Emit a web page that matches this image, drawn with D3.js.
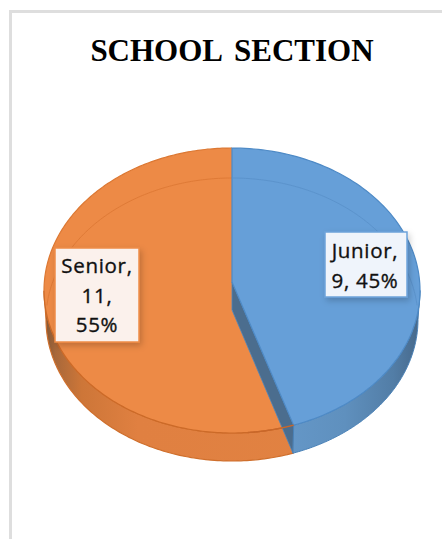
<!DOCTYPE html>
<html>
<head>
<meta charset="utf-8">
<script src="https://cdn.jsdelivr.net/npm/d3@7"></script>
<style>
  html, body { margin: 0; padding: 0; background: #fff; }
  svg { display: block; }
</style>
</head>
<body>
<div id="chart"></div>
<script>
const categories = ["Junior", "Senior"];
const values = [9, 11];
const labelLines = [["Junior,", "9, 45%"], ["Senior,", "11,", "55%"]];
const titleText = "SCHOOL SECTION";

const width = 442, height = 539;

const svg = d3.select("#chart").append("svg")
    .attr("width", width)
    .attr("height", height);

const defs = svg.append("defs");

function addGradient(id, stops) {
    const g = defs.append("linearGradient").attr("id", id)
        .attr("gradientUnits", "userSpaceOnUse")
        .attr("x1", 44).attr("x2", 420).attr("y1", 0).attr("y2", 0);
    stops.forEach(s => g.append("stop").attr("offset", s[0]).attr("stop-color", s[1]));
}
addGradient("orangeSide", [[0, "#7d5434"], [0.03, "#a8683a"], [0.1, "#cd7638"], [0.25, "#e08041"], [1, "#e28342"]]);
addGradient("blueSide", [[0.6, "#6699ca"], [0.8, "#5f90be"], [0.93, "#527da6"], [1, "#46688a"]]);

const shadow = defs.append("filter").attr("id", "labelShadow")
    .attr("x", "-20%").attr("y", "-20%").attr("width", "150%").attr("height", "150%");
shadow.append("feDropShadow")
    .attr("dx", 2).attr("dy", 3).attr("stdDeviation", 3)
    .attr("flood-color", "#000").attr("flood-opacity", 0.2);

// chart frame, only the top and left edges are inside the crop
svg.append("path")
    .attr("d", "M10.5,539 V11.5 H442")
    .attr("fill", "none")
    .attr("stroke", "#dedede")
    .attr("stroke-width", 3);

svg.append("text")
    .attr("x", 232)
    .attr("y", 61)
    .attr("text-anchor", "middle")
    .attr("font-family", "'Liberation Serif'")
    .attr("font-weight", "bold")
    .attr("font-size", 31)
    .attr("word-spacing", 5)
    .attr("fill", "#000")
    .text(titleText);

// top face and bottom edge of the disc
const xTop = d3.scaleLinear().domain([-1, 1]).range([44, 420]);
const yTop = d3.scaleLinear().domain([-1, 1]).range([148, 433]);
const xBottom = d3.scaleLinear().domain([-1, 1]).range([46, 418]);
const yBottom = d3.scaleLinear().domain([-1, 1]).range([178, 461]);

const pie = d3.pie().sort(null);
const slices = pie(values);
const junior = slices[0], senior = slices[1];

const topPt = a => [xTop(Math.sin(a)), yTop(-Math.cos(a))];
const bottomPt = a => [xBottom(Math.sin(a)), yBottom(-Math.cos(a))];
const arcPts = (fn, a0, a1) => d3.range(0, 121).map(i => fn(a0 + (a1 - a0) * i / 120));
const line = d3.line();

const apexTop = [xTop(0), 282];
const apexBottom = [xTop(0), 310];
// the tilted view pulls the cut a little away from its flat angle
const cut = junior.endAngle - 0.02;
const quarter = Math.PI / 2;

// sides
svg.append("path")
    .attr("d", line(arcPts(topPt, cut, 3 * quarter).concat(arcPts(bottomPt, 3 * quarter, cut))) + "Z")
    .attr("fill", "url(#orangeSide)")
    .attr("stroke", "#cf6f2c")
    .attr("stroke-width", 1.2);

svg.append("path")
    .attr("d", line([apexBottom].concat(arcPts(topPt, cut, senior.endAngle))) + "Z")
    .attr("fill", "#ed8a46");

svg.append("path")
    .attr("d", line(arcPts(topPt, cut, 3 * quarter)))
    .attr("fill", "none")
    .attr("stroke", "#cc6a28")
    .attr("stroke-width", 1.2);

svg.append("path")
    .attr("d", line(arcPts(topPt, 3 * quarter, senior.endAngle)))
    .attr("fill", "none")
    .attr("stroke", "#dc7833")
    .attr("stroke-width", 1.2);

// faint ring where the back of the disc shows through
svg.append("path")
    .attr("d", line(arcPts(bottomPt, 3 * quarter + 0.1, senior.endAngle)))
    .attr("fill", "none")
    .attr("stroke", "#df7a36")
    .attr("stroke-width", 1);

// cut wall between the slices
svg.append("path")
    .attr("d", line([apexTop, apexBottom, bottomPt(cut), topPt(cut)]) + "Z")
    .attr("fill", "#4b6d8e")
    .attr("stroke", "#4f86bb")
    .attr("stroke-width", 0.8);

svg.append("path")
    .attr("d", line(arcPts(topPt, quarter, cut).concat(arcPts(bottomPt, cut, quarter))) + "Z")
    .attr("fill", "url(#blueSide)")
    .attr("stroke", "#4a82b8")
    .attr("stroke-width", 1);

svg.append("path")
    .attr("d", line([apexTop].concat(arcPts(topPt, junior.startAngle, cut))) + "Z")
    .attr("fill", "#669fd8")
    .attr("stroke", "#4e8ac6")
    .attr("stroke-width", 1.2);

svg.append("path")
    .attr("d", line(arcPts(bottomPt, 0, quarter - 0.1)))
    .attr("fill", "none")
    .attr("stroke", "#5b93cc")
    .attr("stroke-width", 1);

// rim line runs on across the wall
svg.append("path")
    .attr("d", line(arcPts(topPt, cut, cut + 0.25)))
    .attr("fill", "none")
    .attr("stroke", "#c8672a")
    .attr("stroke-width", 1.4);

// data labels
const labelBoxes = [
    {x: 325, y: 232, w: 82, h: 65, cx: 365, base: 258, fill: "#eff4fb", stroke: "#6da3da"},
    {x: 55, y: 248, w: 84, h: 94, cx: 97, base: 273, fill: "#fbf1ec", stroke: "#ee8c48"}
];

const labels = svg.selectAll(".label")
    .data(categories)
    .join("g")
    .attr("class", "label");

labels.append("rect")
    .attr("x", (d, i) => labelBoxes[i].x)
    .attr("y", (d, i) => labelBoxes[i].y)
    .attr("width", (d, i) => labelBoxes[i].w)
    .attr("height", (d, i) => labelBoxes[i].h)
    .attr("fill", (d, i) => labelBoxes[i].fill)
    .attr("stroke", (d, i) => labelBoxes[i].stroke)
    .attr("stroke-width", 1.5)
    .attr("filter", "url(#labelShadow)");

labels.each(function (d, i) {
    d3.select(this).selectAll("text")
        .data(labelLines[i])
        .join("text")
        .attr("x", labelBoxes[i].cx)
        .attr("y", (t, j) => labelBoxes[i].base + j * 29.5)
        .attr("text-anchor", "middle")
        .attr("font-family", "'Open Sans'")
        .attr("font-size", 20.5)
        .attr("letter-spacing", 0.7)
        .attr("stroke", "#111")
        .attr("stroke-width", 0.35)
        .attr("fill", "#111")
        .text(t => t);
});
</script>
</body>
</html>
